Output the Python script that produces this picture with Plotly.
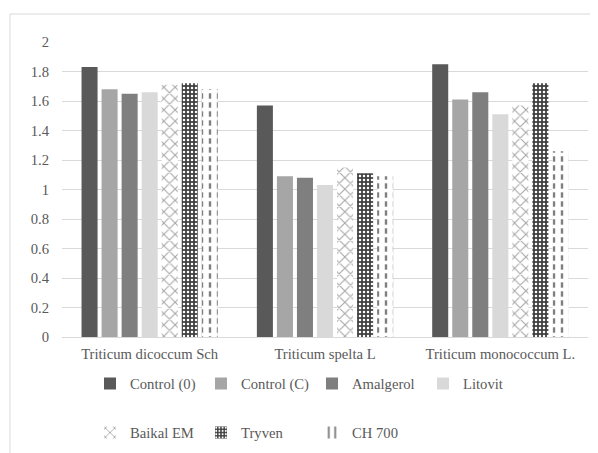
import plotly.graph_objects as go

categories = ["Triticum dicoccum Sch", "Triticum spelta L", "Triticum monococcum L."]
series_names = ["Control (0)", "Control (C)", "Amalgerol", "Litovit", "Baikal EM", "Tryven", "CH 700"]
control0 = [1.83, 1.57, 1.85]
controlC = [1.68, 1.09, 1.61]
amalgerol = [1.65, 1.08, 1.66]
litovit = [1.66, 1.03, 1.51]
baikal = [1.71, 1.15, 1.57]
tryven = [1.72, 1.11, 1.72]
ch700 = [1.68, 1.09, 1.26]
y_ticks = [0, 0.2, 0.4, 0.6, 0.8, 1, 1.2, 1.4, 1.6, 1.8, 2]
y_tick_labels = ["0", "0.2", "0.4", "0.6", "0.8", "1", "1.2", "1.4", "1.6", "1.8", "2"]

values = [control0, controlC, amalgerol, litovit, baikal, tryven, ch700]
styles = [
    dict(color="#595959"),
    dict(color="#a6a6a6"),
    dict(color="#7f7f7f"),
    dict(color="#d9d9d9"),
    dict(color="white", pattern=dict(shape="x", fgcolor="#a6a6a6", bgcolor="white", size=8, solidity=0.25, fillmode="replace")),
    dict(color="#404040", pattern=dict(shape=".", fgcolor="white", bgcolor="#404040", size=4, solidity=0.3, fillmode="replace")),
    dict(color="white", pattern=dict(shape="|", fgcolor="#7f7f7f", bgcolor="white", size=8, solidity=0.3, fillmode="replace")),
]

fig = go.Figure()
for i, (name, vals, st) in enumerate(zip(series_names, values, styles)):
    fig.add_trace(go.Bar(
        name=name, x=categories, y=vals, offsetgroup=str(i),
        marker=dict(line=dict(width=0), **st),
        legend="legend" if i < 4 else "legend2",
    ))

# white horizontal breaks over the CH 700 stripes to make them dashed
fig.add_trace(go.Bar(
    name="CH 700", x=categories, y=ch700, offsetgroup="6", showlegend=False, hoverinfo="skip",
    marker=dict(color="rgba(0,0,0,0)", line=dict(width=0),
                pattern=dict(shape="-", fgcolor="white", bgcolor="rgba(0,0,0,0)", size=9,
                             solidity=0.4, fillmode="replace")),
))

font = dict(family="Liberation Serif, serif", size=14.67, color="#595959")
W, H = 590, 445
L, R, T, B = 54, 10, 34, 116
pw, ph = W - L - R, H - T - B


def px_x(px):
    return (px - 8 - L) / pw


def px_y(py):
    return (H - B - (py - 8)) / ph


legend_common = dict(orientation="h", xanchor="left", yanchor="middle",
                     entrywidth=66, entrywidthmode="pixels", font=font, traceorder="normal",
                     itemwidth=30, bgcolor="rgba(0,0,0,0)")

fig.update_layout(
    width=W, height=H,
    margin=dict(l=L, r=R, t=T, b=B, autoexpand=False),
    paper_bgcolor="white", plot_bgcolor="white",
    barmode="group", bargap=0.2, bargroupgap=0.2,
    font=font,
    showlegend=True,
    legend=dict(x=px_x(90), y=px_y(384), **legend_common),
    legend2=dict(x=px_x(90), y=px_y(433), **legend_common),
    xaxis=dict(showline=True, linecolor="#d9d9d9", linewidth=1, ticks="", tickfont=font, showgrid=False,
               ticklabelstandoff=3),
    yaxis=dict(range=[0, 2], tickvals=y_ticks, ticktext=y_tick_labels, showgrid=True,
               gridcolor="#d9d9d9", gridwidth=1, zeroline=False, showline=False, ticks="",
               tickfont=font, ticklabelstandoff=12),
    shapes=[dict(type="rect", xref="paper", yref="paper", x0=px_x(10), x1=1.2, y0=-0.6, y1=px_y(14),
                 line=dict(color="#d9d9d9", width=1), fillcolor="rgba(0,0,0,0)", layer="below")],
)
fig.write_html("out.html")
